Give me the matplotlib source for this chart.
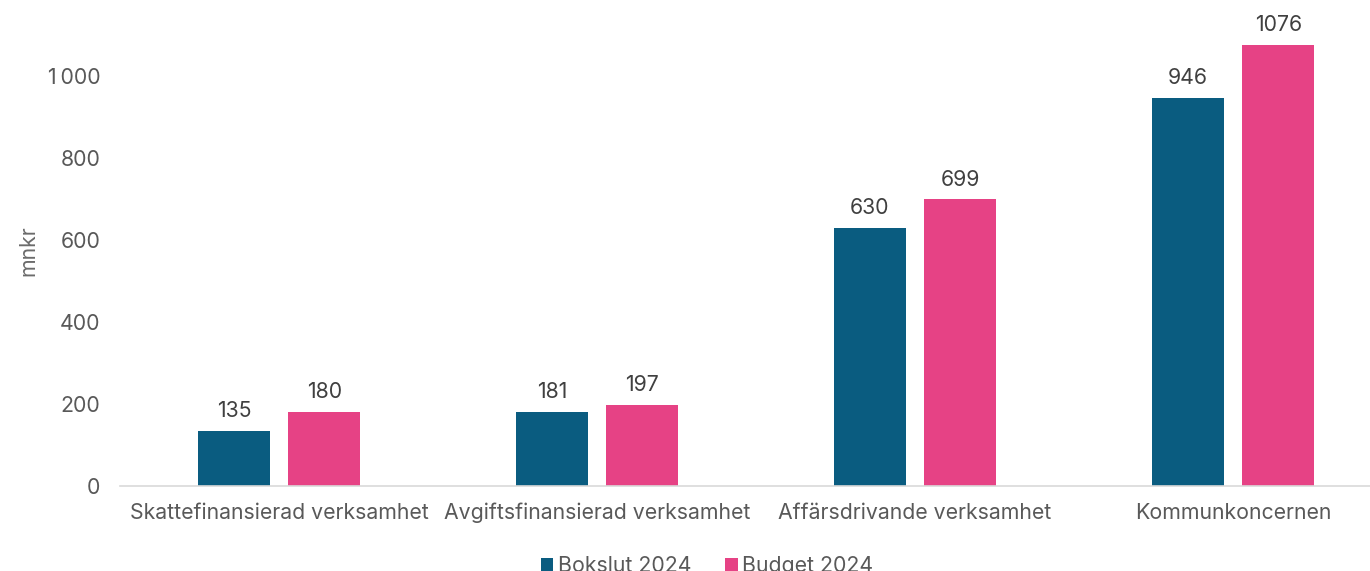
import numpy as np
import matplotlib.pyplot as plt
from matplotlib.ticker import FuncFormatter

plt.rcParams['font.family'] = ['Inter', 'DejaVu Sans']

categories = ['Skattefinansierad verksamhet', 'Avgiftsfinansierad verksamhet',
              'Affärsdrivande verksamhet', 'Kommunkoncernen']
bokslut = [135, 181, 630, 946]
budget = [180, 197, 699, 1076]
series_names = ['Bokslut 2024', 'Budget 2024']

blue = '#0A5C80'
pink = '#E64285'
grey = '#595959'

fig = plt.figure(figsize=(13.7, 5.71), dpi=100)
# axes spans past the right edge, like the original
ax = fig.add_axes([0.0876, 0.1489, 0.9285, 0.8257])

x = np.arange(len(categories))
w = 0.226
off = 0.142
b1 = ax.bar(x - off, bokslut, w, color=blue, label=series_names[0])
b2 = ax.bar(x + off, budget, w, color=pink, label=series_names[1])

for bars in (b1, b2):
    for r in bars:
        ax.annotate(f'{int(r.get_height())}', (r.get_x() + r.get_width() / 2, r.get_height()),
                    xytext=(0, 7), textcoords='offset points', ha='center', va='bottom',
                    fontsize=15.3, color='#404040')

ax.set_xlim(-0.5, 3.5)
ax.set_ylim(0, 1150)
ax.set_yticks([0, 200, 400, 600, 800, 1000])
ax.yaxis.set_major_formatter(FuncFormatter(lambda v, p: f'{int(v):,}'.replace(',', '\u2009')))
ax.set_xticks(x)
ax.set_xticklabels(categories)
ax.tick_params(axis='both', length=0, labelsize=15.3, colors=grey)
ax.tick_params(axis='x', pad=12)
ax.tick_params(axis='y', pad=14)
for s in ['top', 'right', 'left']:
    ax.spines[s].set_visible(False)
ax.spines['bottom'].set_color('#D9D9D9')
ax.spines['bottom'].set_linewidth(1.2)

ax.set_ylabel('mnkr', fontsize=15.3, color='#6b6b6b', labelpad=7)

# legend sits partly below the lower edge, as in the reference
fig.legend(loc='lower center', bbox_to_anchor=(0.516, -0.042), ncol=2, frameon=False,
           fontsize=15.3, labelcolor=grey, handlelength=0.6, handleheight=0.6,
           handletextpad=0.2, columnspacing=1.6)

fig.savefig('out.png', dpi=100)
